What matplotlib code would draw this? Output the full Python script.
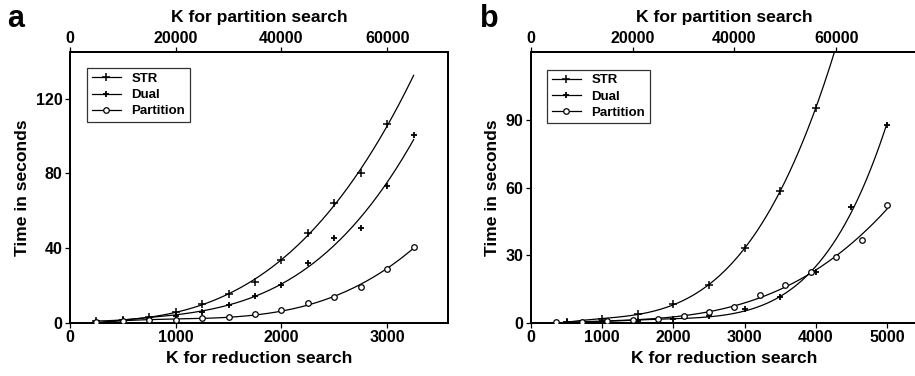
import numpy as np
import matplotlib
matplotlib.use("Agg")
import matplotlib.pyplot as plt

plt.rcParams['font.family'] = ['Liberation Sans', 'DejaVu Sans']
plt.rcParams['font.weight'] = 'bold'

# ---------------- Panel a data ----------------
a_k_red = [250, 500, 750, 1000, 1250, 1500, 1750, 2000, 2250, 2500, 2750, 3000]
a_str = [0.8, 1.6, 2.8, 5.9, 9.9, 15.4, 22.0, 33.7, 48.3, 63.9, 80.2, 106.2]
a_k_dual = [250, 500, 750, 1000, 1250, 1500, 1750, 2000, 2250, 2500, 2750, 3000, 3250]
a_dual = [0.6, 1.2, 2.2, 3.8, 5.9, 9.5, 14.3, 20.2, 32.2, 45.6, 50.7, 73.0, 100.8]
a_k_part = [5000, 10000, 15000, 20000, 25000, 30000, 35000, 40000, 45000,
            50000, 55000, 60000, 65000]
a_part = [0.4, 0.8, 1.2, 1.3, 2.3, 3.2, 4.5, 6.8, 10.4, 13.6, 19.3, 28.7, 40.8]
a_xticks = [0, 1000, 2000, 3000]
a_top_ticks = [0, 20000, 40000, 60000]
a_yticks = [0, 40, 80, 120]

# ---------------- Panel b data ----------------
b_k_red = [500, 1000, 1500, 2000, 2500, 3000, 3500, 4000]
b_str = [0.3, 1.5, 3.9, 8.2, 16.6, 33.3, 58.5, 95.6]
b_k_dual = [500, 1000, 1500, 2000, 2500, 3000, 3500, 4000, 4500, 5000]
b_dual = [0.1, 0.6, 0.9, 1.6, 3.0, 5.9, 11.6, 22.7, 51.6, 88.0]
b_k_part = [5000, 10000, 15000, 20000, 25000, 30000, 35000, 40000, 45000,
            50000, 55000, 60000, 65000, 70000]
b_part = [0.2, 0.2, 0.9, 1.2, 1.8, 2.8, 4.8, 6.8, 12.3, 16.9, 22.4, 29.1, 36.6, 52.3]
b_xticks = [0, 1000, 2000, 3000, 4000, 5000]
b_top_ticks = [0, 20000, 40000, 60000]
b_yticks = [0, 30, 60, 90]

W, H = 915, 376
fig = plt.figure(figsize=(W / 100, H / 100), dpi=100)

TICK_FS = 11.5
LAB_FS = 12.6


def fit_line(ax, x, y, x0, x1, deg=3):
    """Least-squares polynomial trend line through the data."""
    c = np.polyfit(x, y, deg)
    xx = np.linspace(x0, x1, 300)
    ax.plot(xx, np.polyval(c, xx), color='black', lw=0.9, zorder=2)


def style(ax, top=False):
    for s in ax.spines.values():
        s.set_linewidth(1.4)
        s.set_color('black')
    ax.tick_params(direction='out', length=3.5, width=0.9, labelsize=TICK_FS,
                   pad=1 if top else 2)
    for lab in ax.get_xticklabels() + ax.get_yticklabels():
        lab.set_fontweight('bold')


def panel(rect, k_red, s_str, k_dual, s_dual, k_part, s_part, xmax, ymax, factor,
          xticks, top_ticks, yticks, str_end, dual_end, part_end, dual_deg,
          letter, letter_x, leg_anchor):
    ax = fig.add_axes(rect)
    ax.set_xlim(0, xmax)
    ax.set_ylim(0, ymax)
    ax2 = ax.twiny()
    ax2.set_xlim(0, xmax * factor)
    ax2.set_ylim(0, ymax)

    fit_line(ax, k_red, s_str, k_red[0], str_end)
    fit_line(ax, k_dual, s_dual, k_dual[0], dual_end, dual_deg)
    fit_line(ax2, k_part, s_part, k_part[0], part_end)

    ax.plot(k_red, s_str, ls='none', marker='+', ms=5.5, mew=1.1, color='black', zorder=3)
    ax.plot(k_dual, s_dual, ls='none', marker='+', ms=3.8, mew=1.3, color='black', zorder=3)
    ax2.plot(k_part, s_part, ls='none', marker='o', ms=4.0, mew=0.9, mfc='white',
             mec='black', zorder=3)

    ax.set_xticks(xticks)
    ax.set_yticks(yticks)
    ax2.set_xticks(top_ticks)
    style(ax)
    style(ax2, top=True)
    ax.set_xlabel('K for reduction search', fontsize=LAB_FS, fontweight='bold', labelpad=4)
    ax.set_ylabel('Time in seconds', fontsize=LAB_FS, fontweight='bold', labelpad=4)
    ax2.set_xlabel('K for partition search', fontsize=LAB_FS, fontweight='bold', labelpad=6)

    h1, = ax.plot([], [], color='black', lw=0.9, marker='+', ms=5.5, mew=1.1)
    h2, = ax.plot([], [], color='black', lw=0.9, marker='+', ms=3.8, mew=1.3)
    h3, = ax.plot([], [], color='black', lw=0.9, marker='o', ms=4.0, mew=0.9, mfc='white')
    leg = ax2.legend([h1, h2, h3], ['STR', 'Dual', 'Partition'],
                     loc='upper left', bbox_to_anchor=leg_anchor,
                     prop={'size': 9.5, 'weight': 'bold'}, frameon=True, fancybox=False,
                     handlelength=2.2, handletextpad=0.8, borderpad=0.35,
                     labelspacing=0.3, borderaxespad=0)
    leg.get_frame().set_edgecolor('black')
    leg.get_frame().set_linewidth(0.9)
    fig.text(letter_x, 0.99, letter, fontsize=22, fontweight='bold', va='top', ha='left')
    return ax, ax2


bot = 1 - 322.7 / H
top = 1 - 52.0 / H

panel([70 / W, bot, (448 - 70) / W, top - bot],
      a_k_red, a_str, a_k_dual, a_dual, a_k_part, a_part,
      3575, 145, 20, a_xticks, a_top_ticks, a_yticks,
      3250, 3250, 65000, 3, 'a', 7 / W, (0.045, 0.94))

panel([531 / W, bot, (918 - 531) / W, top - bot],
      b_k_red, b_str, b_k_dual, b_dual, b_k_part, b_part,
      5435, 120.4, 14, b_xticks, b_top_ticks, b_yticks,
      4400, 5000, 70000, 4, 'b', 480 / W, (0.042, 0.935))

fig.savefig('out.png', dpi=100)
